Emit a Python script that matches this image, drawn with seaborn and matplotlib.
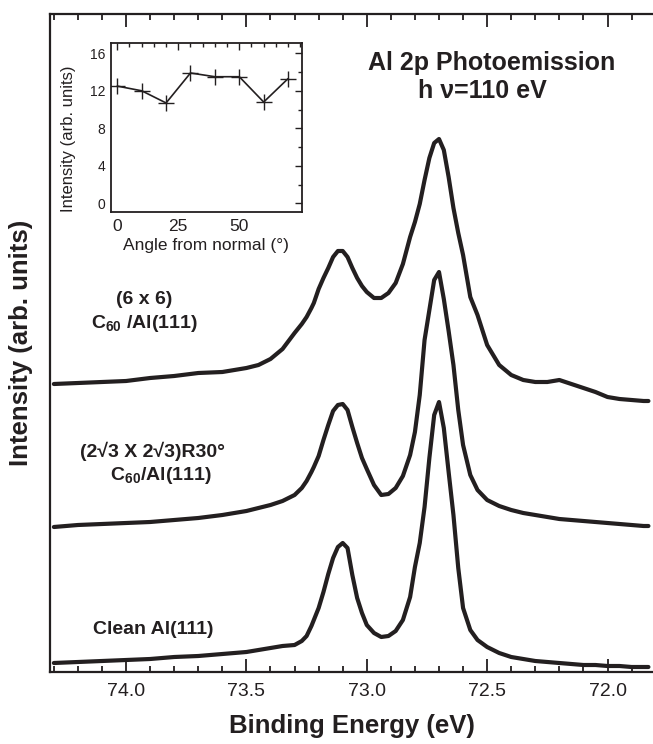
import matplotlib
matplotlib.use("Agg")
import matplotlib.pyplot as plt
from matplotlib.ticker import MultipleLocator, FormatStrFormatter, FixedLocator
import numpy as np
import pandas as pd
import seaborn as sns

# ---------------- data ----------------
energy = [74.30, 74.20, 74.10, 74.00, 73.90, 73.80, 73.70, 73.60, 73.50, 73.45,
          73.40, 73.35, 73.30, 73.27, 73.25, 73.23, 73.22, 73.20, 73.18, 73.16,
          73.14, 73.12, 73.10, 73.08, 73.06, 73.04, 73.02, 73.00, 72.97, 72.94,
          72.91, 72.88, 72.85, 72.82, 72.80, 72.78, 72.76, 72.74, 72.72, 72.70,
          72.68, 72.66, 72.64, 72.62, 72.60, 72.57, 72.54, 72.50, 72.45, 72.40,
          72.35, 72.30, 72.25, 72.20, 72.15, 72.10, 72.05, 72.00, 71.95, 71.90,
          71.85, 71.83]

clean = [9, 10, 11, 12, 13, 15, 16, 18, 20, 22,
         24, 26, 27, 31, 36, 46, 52, 64, 80, 98,
         114, 125, 129, 124, 97, 74, 59, 47, 39, 35,
         36, 41, 52, 75, 105, 129, 165, 214, 257, 270,
         244, 200, 157, 104, 64, 42, 32, 25, 19, 15,
         13, 11, 10, 9, 8, 7, 7, 6, 6, 5,
         5, 5]

r30 = [145, 147, 148, 149, 150, 152, 154, 157, 161, 164,
       167, 171, 177, 184, 191, 200, 205, 216, 232, 247,
       261, 267, 268, 262, 245, 229, 214, 203, 187, 177,
       178, 184, 196, 217, 240, 277, 332, 362, 392, 400,
       373, 341, 307, 262, 227, 197, 182, 172, 166, 162,
       159, 157, 155, 153, 152, 151, 150, 149, 148, 147,
       146, 146]

six = [288, 289, 290, 291, 294, 296, 299, 300, 304, 307,
       313, 323, 339, 348, 355, 364, 369, 383, 394, 404,
       415, 421, 421, 415, 404, 394, 386, 380, 374, 374,
       379, 389, 408, 435, 450, 468, 492, 514, 529, 533,
       522, 495, 464, 439, 417, 375, 357, 327, 307, 297,
       292, 290, 290, 292, 288, 284, 280, 275, 273, 272,
       271, 271]

angle = [0, 10, 20, 30, 40, 50, 60, 70]
angle_intensity = [12.5, 12.0, 10.7, 13.9, 13.5, 13.5, 10.8, 13.3]
angle_ticks = [0, 25, 50]

curve_labels = ["(6 x 6)\nC$_{60}$ /Al(111)",
                "(2\u221a3 X 2\u221a3)R30\u00b0\n   C$_{60}$/Al(111)",
                "Clean Al(111)"]

# ---------------- style ----------------
sns.set_style("white")
plt.rcParams["font.family"] = ["Liberation Sans", "DejaVu Sans"]
plt.rcParams["mathtext.fontset"] = "custom"
plt.rcParams["mathtext.rm"] = "Liberation Sans:bold"
plt.rcParams["mathtext.it"] = "Liberation Sans:bold"
plt.rcParams["mathtext.bf"] = "Liberation Sans:bold"
INK = "#231f20"

fig = plt.figure(figsize=(6.53, 7.44), dpi=100)
ax = fig.add_axes([50 / 653, 72 / 744, 603 / 653, 658 / 744])

df = pd.DataFrame({
    "energy": energy * 3,
    "intensity": clean + r30 + six,
    "sample": ["clean"] * len(energy) + ["r30"] * len(energy) + ["six"] * len(energy),
})
for name in ["clean", "r30", "six"]:
    sub = df[df["sample"] == name]
    sns.lineplot(data=sub, x="energy", y="intensity", ax=ax, color=INK,
                 lw=3.0, sort=False, estimator=None, legend=False)

ax.set_xlim(74.316, 71.811)
ax.set_ylim(0, 658)
ax.xaxis.set_major_locator(MultipleLocator(0.5))
ax.xaxis.set_minor_locator(MultipleLocator(0.1))
ax.xaxis.set_major_formatter(FormatStrFormatter("%.1f"))
ax.set_yticks([])
ax.tick_params(axis="x", which="both", direction="in", top=True, bottom=True,
               color=INK, width=1.3, labelsize=14, labelcolor=INK, pad=8)
ax.tick_params(axis="x", which="major", length=9.5)
ax.tick_params(axis="x", which="minor", length=4.5)
for s in ["left", "bottom", "top"]:
    ax.spines[s].set_linewidth(1.6)
    ax.spines[s].set_color(INK)
ax.spines["right"].set_visible(False)
ax.set_xlabel("Binding Energy (eV)", fontsize=18.5, fontweight="bold", color=INK, labelpad=10)
ax.set_ylabel("Intensity (arb. units)", fontsize=18.5, fontweight="bold", color=INK, labelpad=12)

ax.text(0.733, 0.9255, "Al 2p Photoemission", transform=ax.transAxes, ha="center",
        va="center", fontsize=18, fontweight="bold", color=INK)
ax.text(0.7164, 0.883, "h \u03bd=110 eV", transform=ax.transAxes, ha="center",
        va="center", fontsize=18, fontweight="bold", color=INK)
ax.text(0.157, 0.546, curve_labels[0], transform=ax.transAxes, ha="center", va="center",
        fontsize=14, fontweight="bold", color=INK, linespacing=1.3)
ax.text(0.17, 0.316, curve_labels[1], transform=ax.transAxes, ha="center", va="center",
        fontsize=14, fontweight="bold", color=INK, linespacing=1.3)
ax.text(0.1708, 0.0653, curve_labels[2], transform=ax.transAxes, ha="center", va="center",
        fontsize=14, fontweight="bold", color=INK)

# ---------------- inset ----------------
ins = fig.add_axes([110.7 / 653, (744 - 211.7) / 744, 191.3 / 653, 169 / 744])
sns.lineplot(x=angle, y=angle_intensity, ax=ins, color=INK, lw=1.2, marker="+",
             markersize=11, markeredgewidth=1.0, markeredgecolor=INK)
ins.set_xlim(-2.7, 75.7)
ins.set_ylim(-0.9, 17.13)
ins.xaxis.set_major_locator(FixedLocator(angle_ticks))
ins.xaxis.set_minor_locator(MultipleLocator(5))
ins.yaxis.set_major_locator(MultipleLocator(4))
ins.yaxis.set_minor_locator(MultipleLocator(2))
ins.tick_params(which="both", direction="in", top=True, right=True, color=INK,
                width=1.0, labelcolor=INK)
ins.tick_params(which="major", length=5)
ins.tick_params(which="minor", length=3)
ins.tick_params(axis="x", labelsize=12.5, pad=5)
ins.tick_params(axis="y", labelsize=10, pad=4)
for s in ins.spines.values():
    s.set_linewidth(1.3)
    s.set_color(INK)
ins.set_xlabel("Angle from normal (\u00b0)", fontsize=12.5, color=INK, labelpad=3)
ins.set_ylabel("Intensity (arb. units)", fontsize=12, color=INK)
ins.yaxis.set_label_coords(-0.181, 0.43)

fig.savefig("out.png", dpi=100)
